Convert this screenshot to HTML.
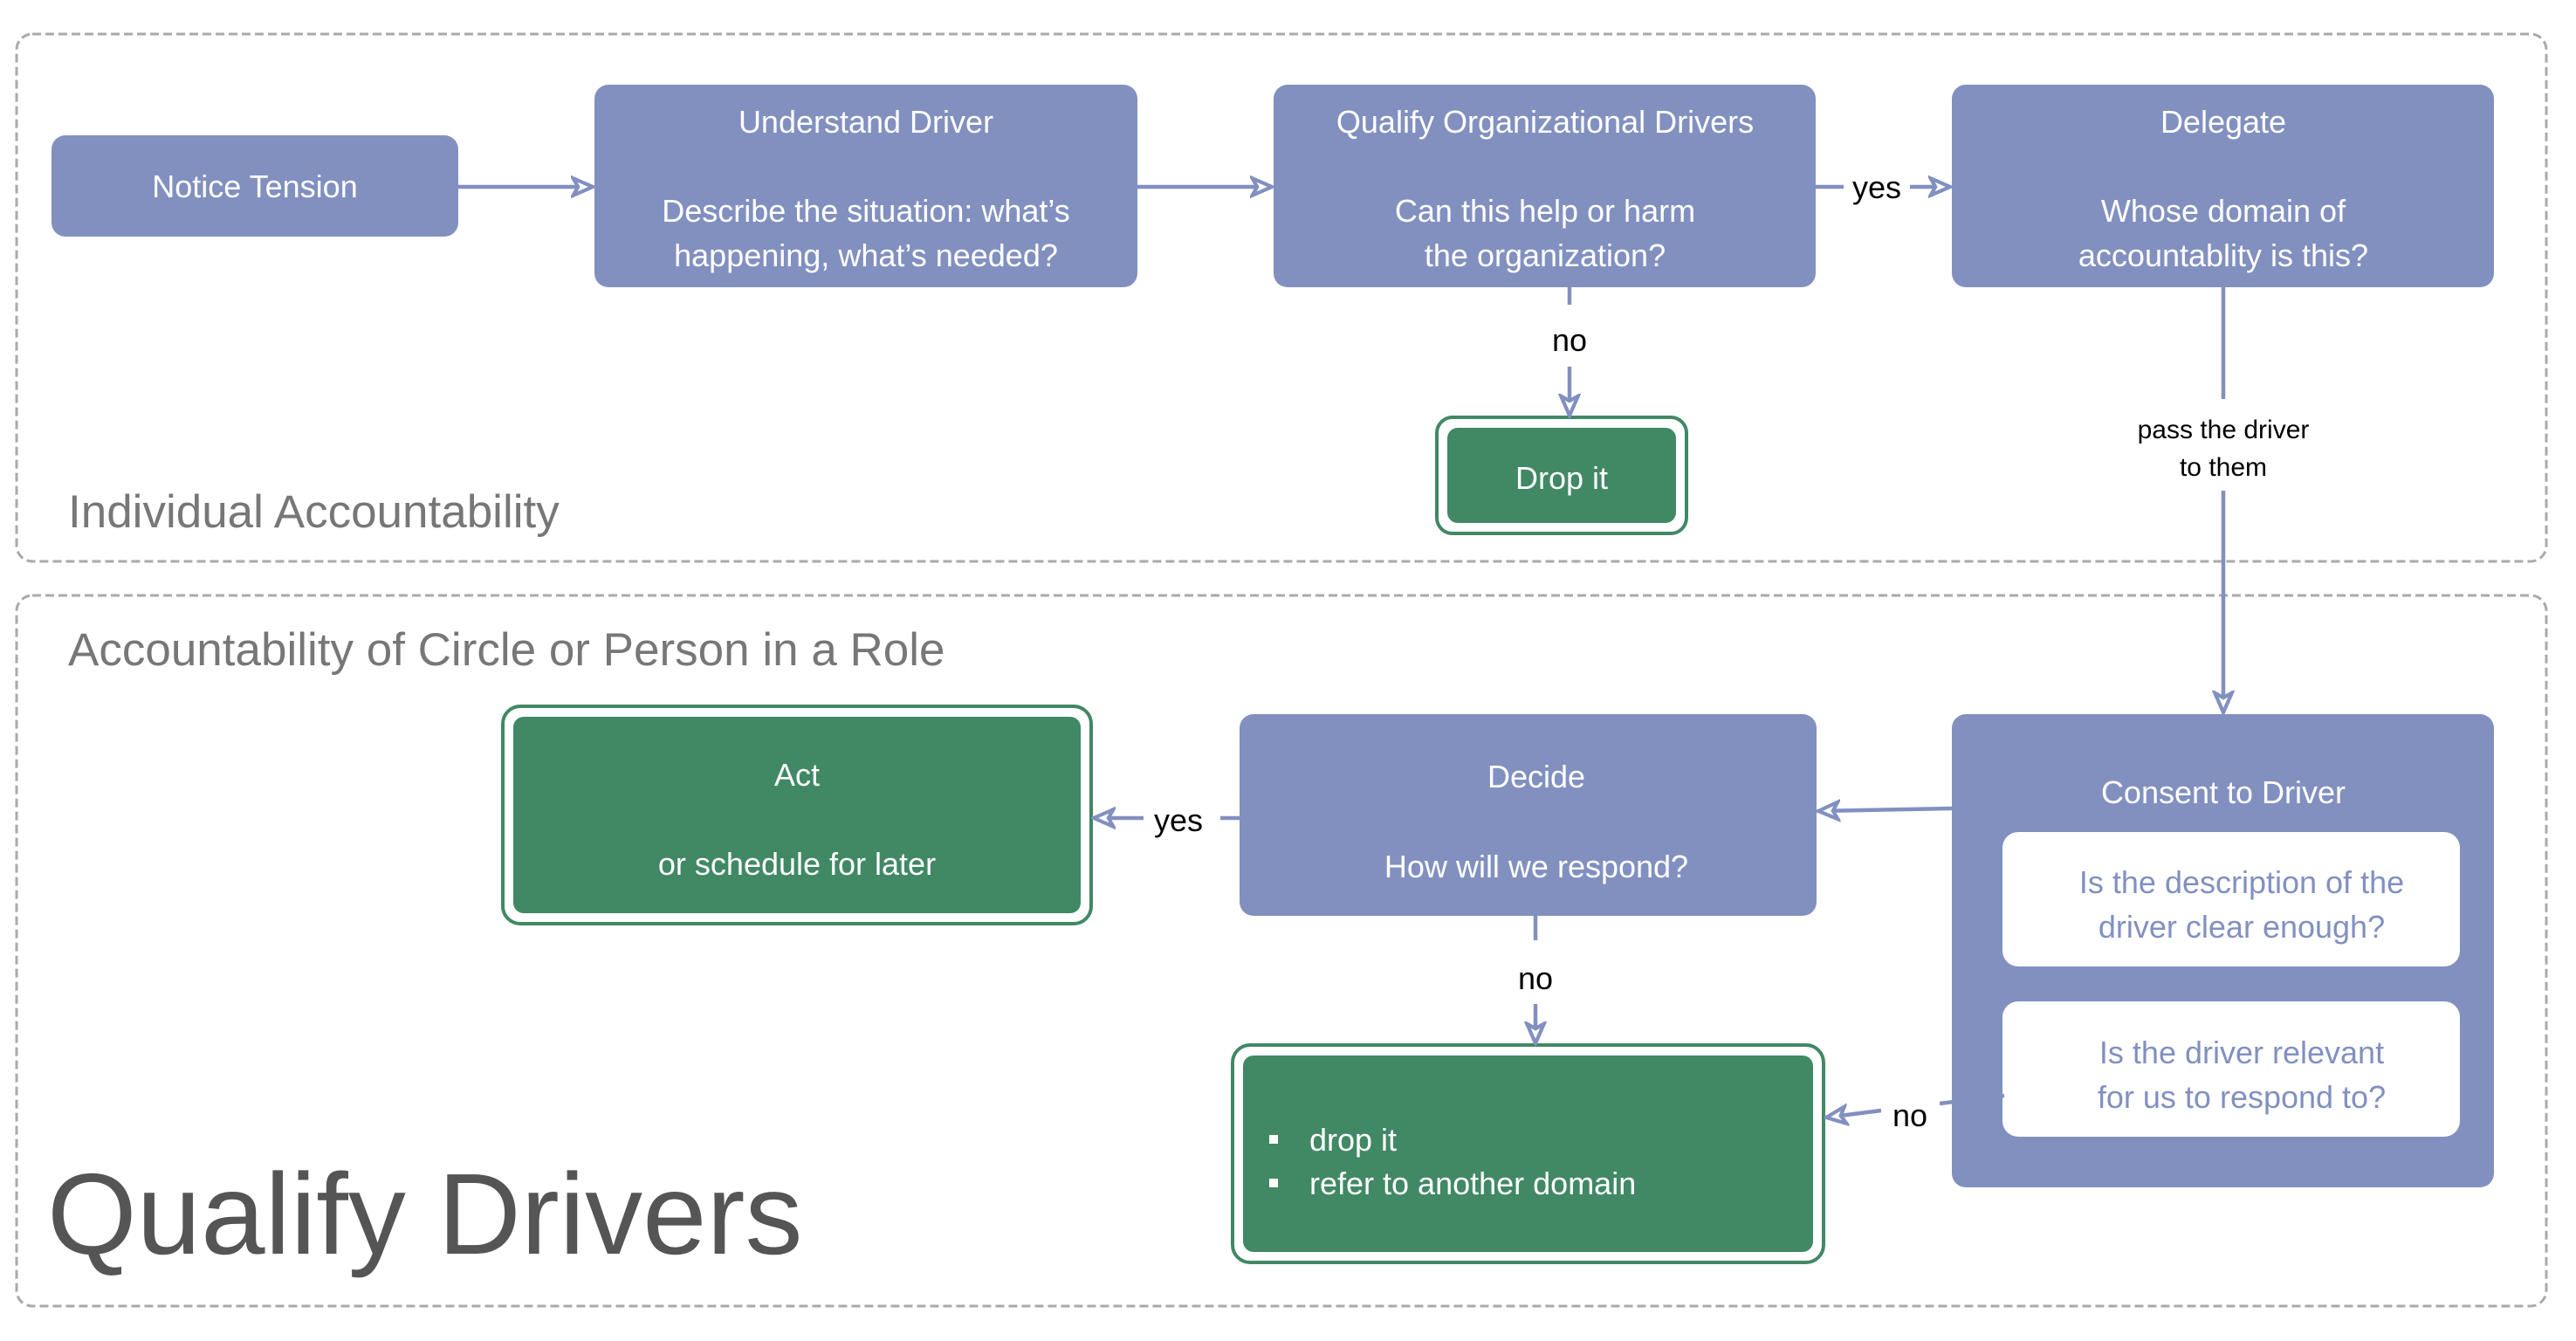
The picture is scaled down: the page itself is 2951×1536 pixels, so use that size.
<!DOCTYPE html>
<html><head><meta charset="utf-8"><style>
html,body{margin:0;padding:0;background:#fff;}
svg{display:block;}
text{font-family:"Liberation Sans",sans-serif;}
</style></head><body>
<svg width="2951" height="1536" viewBox="0 0 2951 1536" xmlns="http://www.w3.org/2000/svg">
<defs>
<marker id="ah" viewBox="0 0 20 20" refX="18" refY="10" markerWidth="28" markerHeight="28" markerUnits="userSpaceOnUse" orient="auto">
<path d="M2,3 L18,10 L2,17 L6,10 Z" fill="#fff" stroke="#8290c0" stroke-width="3" stroke-linejoin="miter"/>
</marker>
</defs>
<!-- groups -->
<rect x="19" y="39" width="2898" height="604" rx="18" fill="none" stroke="#aaa" stroke-width="3" stroke-dasharray="10,5"/>
<rect x="19" y="682" width="2898" height="814" rx="18" fill="none" stroke="#aaa" stroke-width="3" stroke-dasharray="10,5"/>
<text x="78" y="604" font-size="53" fill="#777">Individual Accountability</text>
<text x="78" y="762" font-size="53" fill="#777">Accountability of Circle or Person in a Role</text>
<text x="54" y="1436" font-size="132" fill="#555">Qualify Drivers</text>

<g fill="#8290c0">
<rect x="59" y="155" width="466" height="116" rx="16"/>
<rect x="681" y="97" width="622" height="232" rx="16"/>
<rect x="1459" y="97" width="621" height="232" rx="16"/>
<rect x="2236" y="97" width="621" height="232" rx="16"/>
<rect x="1420" y="818" width="661" height="231" rx="16"/>
<rect x="2236" y="818" width="621" height="542" rx="16"/>
</g>
<rect x="2294" y="953" width="524" height="154" rx="18" fill="#fff"/>
<rect x="2294" y="1147" width="524" height="155" rx="18" fill="#fff"/>

<!-- green -->
<rect x="1646" y="478" width="286" height="133" rx="18" fill="#fff" stroke="#418865" stroke-width="4"/>
<rect x="1658" y="490" width="262" height="109" rx="12" fill="#418865"/>
<rect x="576" y="809" width="674" height="249" rx="20" fill="#fff" stroke="#418865" stroke-width="4"/>
<rect x="588" y="821" width="650" height="225" rx="12" fill="#418865"/>
<rect x="1412" y="1197" width="677" height="249" rx="20" fill="#fff" stroke="#418865" stroke-width="4"/>
<rect x="1424" y="1209" width="653" height="225" rx="12" fill="#418865"/>

<g font-size="36" fill="#fff" text-anchor="middle">
<text x="292" y="226">Notice Tension</text>
<text x="992" y="152">Understand Driver</text>
<text x="992" y="254">Describe the situation: what’s</text>
<text x="992" y="305">happening, what’s needed?</text>
<text x="1770" y="152">Qualify Organizational Drivers</text>
<text x="1770" y="254">Can this help or harm</text>
<text x="1770" y="305">the organization?</text>
<text x="2547" y="152">Delegate</text>
<text x="2547" y="254">Whose domain of</text>
<text x="2547" y="305">accountablity is this?</text>
<text x="1789" y="560">Drop it</text>
<text x="913" y="900">Act</text>
<text x="913" y="1002">or schedule for later</text>
<text x="1760" y="902">Decide</text>
<text x="1760" y="1005">How will we respond?</text>
<text x="2547" y="920">Consent to Driver</text>
</g>
<g font-size="36" fill="#8290c0" text-anchor="middle">
<text x="2568" y="1023">Is the description of the</text>
<text x="2568" y="1074">driver clear enough?</text>
<text x="2568" y="1218">Is the driver relevant</text>
<text x="2568" y="1269">for us to respond to?</text>
</g>
<g fill="#fff" font-size="36">
<rect x="1454" y="1300" width="10" height="10"/>
<rect x="1454" y="1350" width="10" height="10"/>
<text x="1500" y="1318">drop it</text>
<text x="1500" y="1368">refer to another domain</text>
</g>

<!-- connectors -->
<g stroke="#8290c0" stroke-width="4.5" fill="none">
<line x1="525" y1="214" x2="679" y2="214" marker-end="url(#ah)"/>
<line x1="1303" y1="214" x2="1457" y2="214" marker-end="url(#ah)"/>
<line x1="2080" y1="214" x2="2112" y2="214"/>
<line x1="2188" y1="214" x2="2234" y2="214" marker-end="url(#ah)"/>
<line x1="1798" y1="329" x2="1798" y2="349"/>
<line x1="1798" y1="420" x2="1798" y2="476" marker-end="url(#ah)"/>
<line x1="2547" y1="329" x2="2547" y2="457"/>
<line x1="2547" y1="562" x2="2547" y2="816" marker-end="url(#ah)"/>
<line x1="2236" y1="926" x2="2083" y2="929" marker-end="url(#ah)"/>
<line x1="1420" y1="937" x2="1398" y2="937"/>
<line x1="1310" y1="937" x2="1253" y2="937" marker-end="url(#ah)"/>
<line x1="1759" y1="1049" x2="1759" y2="1077"/>
<line x1="1759" y1="1150" x2="1759" y2="1195" marker-end="url(#ah)"/>
<line x1="2296" y1="1255" x2="2222" y2="1264"/>
<line x1="2155" y1="1272" x2="2092" y2="1280" marker-end="url(#ah)"/>
</g>
<g font-size="36" fill="#000" text-anchor="middle">
<text x="2150" y="227">yes</text>
<text x="1798" y="402">no</text>
<text x="1350" y="952">yes</text>
<text x="1759" y="1133">no</text>
<text x="2188" y="1290">no</text>
</g>
<g font-size="30" fill="#000" text-anchor="middle">
<text x="2547" y="502">pass the driver</text>
<text x="2547" y="545">to them</text>
</g>
</svg>
</body></html>
